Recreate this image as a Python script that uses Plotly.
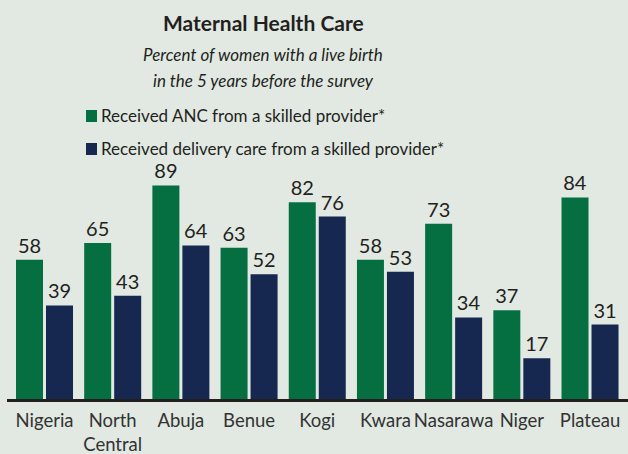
import plotly.graph_objects as go

categories = ["Nigeria", "North<br>Central", "Abuja", "Benue", "Kogi", "Kwara", "Nasarawa", "Niger", "Plateau"]
anc_values = [58, 65, 89, 63, 82, 58, 73, 37, 84]
delivery_values = [39, 43, 64, 52, 76, 53, 34, 17, 31]
series_names = ["Received ANC from a skilled provider*", "Received delivery care from a skilled provider*"]
series_colors = ["#066f42", "#16284f"]

title_text = "Maternal Health Care"
subtitle_lines = ["Percent of women with a live birth", "in the 5 years before the survey"]

W, H = 628, 454
ML, MR, MT, MB = 7, 0, 159, 55
PW = W - ML - MR
PH = H - MT - MB


def px_x(px):
    return (px - ML) / PW


def px_y(py):
    return (H - MB - py) / PH


BG = "#e1e9e2"
TXT = "#231f20"
FONT = "Lato"

fig = go.Figure()
for name, vals, col in zip(series_names, [anc_values, delivery_values], series_colors):
    fig.add_trace(go.Bar(
        x=categories, y=vals, name=name, marker_color=col, marker_line_width=0,
        text=vals, texttemplate="%{y}", textposition="outside",
        textfont=dict(family=FONT, size=20, color=TXT), cliponaxis=False,
        showlegend=False,
    ))

annotations = [
    dict(text="<b>" + title_text + "</b>", x=px_x(263), y=px_y(22), xref="paper", yref="paper",
         xanchor="center", yanchor="middle", showarrow=False,
         font=dict(family=FONT, size=21, color=TXT)),
]
for i, line in enumerate(subtitle_lines):
    annotations.append(dict(text="<i>" + line + "</i>", x=px_x(263), y=px_y(54 + 26 * i),
                            xref="paper", yref="paper", xanchor="center", yanchor="middle",
                            showarrow=False, font=dict(family=FONT, size=17, color=TXT)))

shapes = []
for i, (name, col) in enumerate(zip(series_names, series_colors)):
    cy = 116 + 33 * i
    shapes.append(dict(type="rect", xref="paper", yref="paper",
                       x0=px_x(86), x1=px_x(97), y0=px_y(cy - 6), y1=px_y(cy + 6),
                       fillcolor=col, line_width=0))
    annotations.append(dict(text=name, x=px_x(99), y=px_y(cy - 1), xref="paper", yref="paper",
                            xanchor="left", yanchor="middle", showarrow=False,
                            font=dict(family=FONT, size=17, color=TXT)))

fig.update_layout(
    width=W, height=H,
    margin=dict(l=ML, r=MR, t=MT, b=MB, pad=0, autoexpand=False),
    paper_bgcolor=BG, plot_bgcolor=BG,
    barmode="group", bargap=0.12, bargroupgap=0.1,
    annotations=annotations, shapes=shapes,
    showlegend=False,
    font=dict(family=FONT, color=TXT),
)
fig.update_xaxes(range=[-0.55, 8.557], showline=True, linecolor=TXT, linewidth=3,
                 ticks="", showgrid=False, zeroline=False, ticklabelstandoff=3,
                 tickangle=0, automargin=False,
                 tickfont=dict(family=FONT, size=18.5, color="#333333"))
fig.update_yaxes(range=[0, 100], visible=False, showgrid=False, zeroline=False, automargin=False)

fig.write_html("out.html", config={"displayModeBar": False},
               post_script="document.body.style.margin='0';document.body.style.overflow='hidden';")
